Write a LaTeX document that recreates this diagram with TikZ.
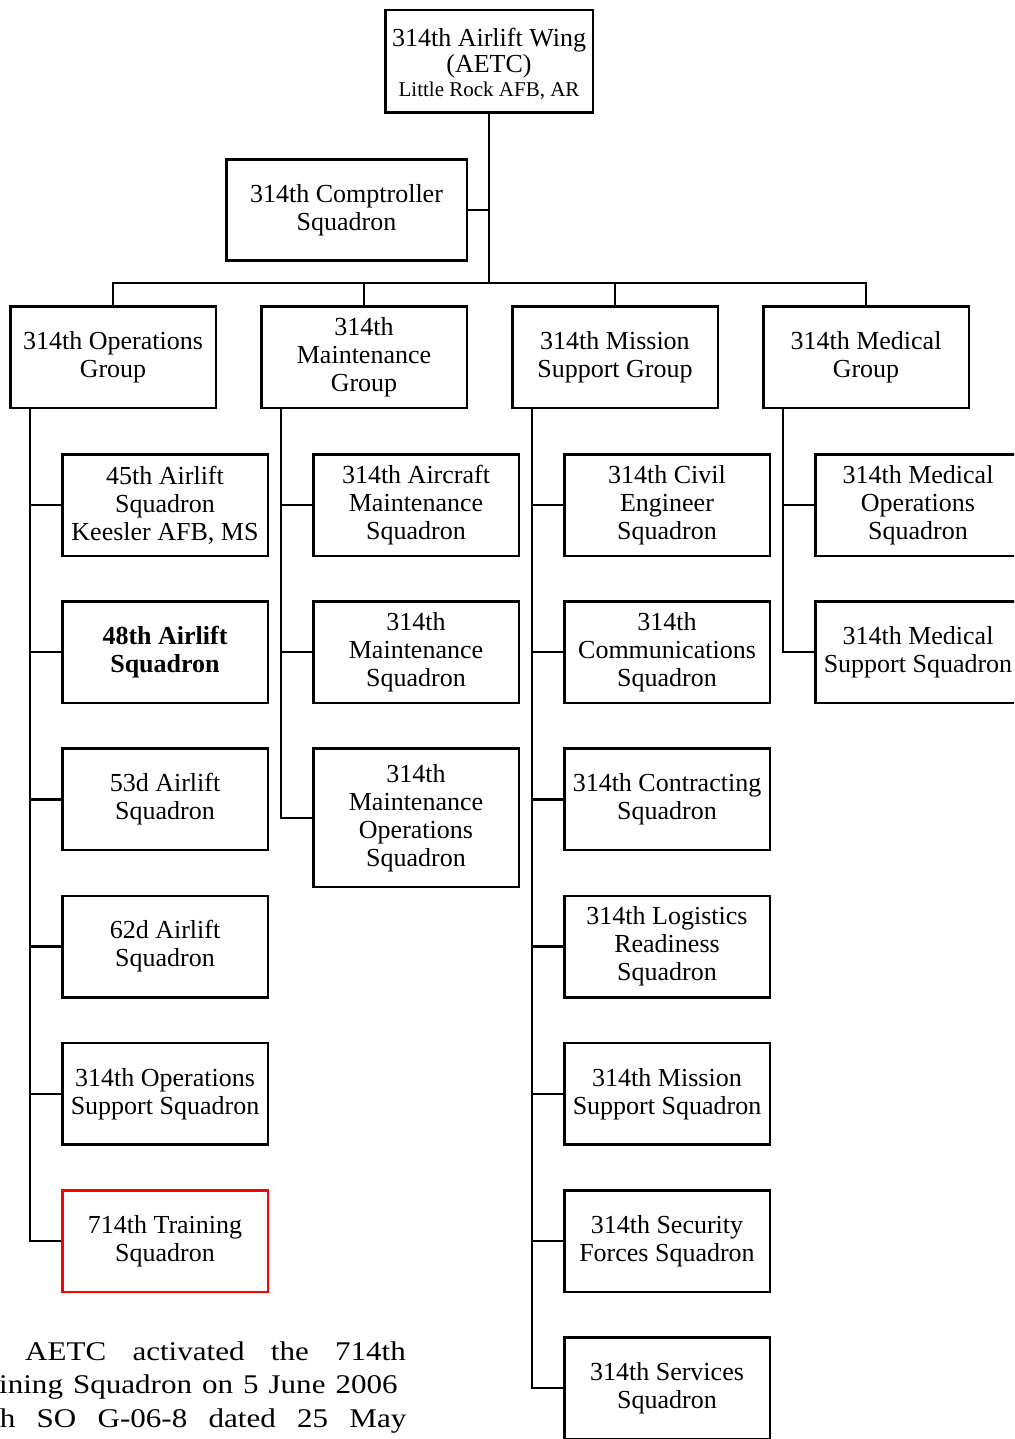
\documentclass[tikz,border=0pt]{standalone}
\usepackage{fontspec}
\setmainfont{Liberation Serif}
\usetikzlibrary{positioning}

\tikzset{
  unit/.style={draw,line width=2.5pt,align=center,inner sep=0pt,
    minimum width=205.5pt,minimum height=101.5pt,
    font=\fontsize{26}{28}\selectfont},
  link/.style={line width=2.5pt},
  note/.style={anchor=base west,inner sep=0pt,font=\fontsize{27}{33}\selectfont}
}
\newcommand{\noteline}[2]{\scalebox{1.15}[1]{\makebox[#1][s]{#2}}}

\begin{document}
\begin{tikzpicture}[x=1pt,y=-1pt,node distance=43.2pt and 43pt]
  \useasboundingbox (0,0) rectangle (1014,1439);
  \clip (0,0) rectangle (1014,1439);

  % wing and staff
  \node[unit,minimum width=207.5pt,minimum height=102.5pt] (wing) at (489,61.5)
    {\rule{0pt}{23pt}314th Airlift Wing\\[-2pt](AETC)\\[-4pt]{\fontsize{21}{24}\selectfont Little Rock AFB, AR}};
  \node[unit,minimum width=240.5pt,minimum height=101pt] (comp) at (346.5,210)
    {314th Comptroller\\Squadron};
  \coordinate (bus) at (489,283);

  % groups
  \node[unit] (ops) at (113,357) {314th Operations\\Group};
  \node[unit,right=of ops] (maint) {314th\\Maintenance\\Group};
  \node[unit,right=of maint] (msg) {314th Mission\\Support Group};
  \node[unit,right=of msg] (med) {314th Medical\\Group};

  % operations group
  \node[unit] (sq45) at ([xshift=52pt,yshift=-148pt]ops) {45th Airlift\\Squadron\\Keesler AFB, MS};
  \node[unit,below=of sq45] (sq48) {\bfseries 48th Airlift\\\bfseries Squadron};
  \node[unit,below=of sq48] (sq53) {53d Airlift\\Squadron};
  \node[unit,below=of sq53] (sq62) {62d Airlift\\Squadron};
  \node[unit,below=of sq62] (oss) {314th Operations\\Support Squadron};
  \node[unit,draw=red,below=of oss] (trs) {714th Training\\Squadron};

  % maintenance group
  \node[unit] (amxs) at ([xshift=52pt,yshift=-148pt]maint) {314th Aircraft\\Maintenance\\Squadron};
  \node[unit,below=of amxs] (mxs) {314th\\Maintenance\\Squadron};
  \node[unit,minimum height=138.5pt,below=of mxs] (mos) {314th\\Maintenance\\Operations\\Squadron};

  % mission support group
  \node[unit] (ces) at ([xshift=52pt,yshift=-148pt]msg) {314th Civil\\Engineer\\Squadron};
  \node[unit,below=of ces] (cs) {314th\\Communications\\Squadron};
  \node[unit,below=of cs] (cons) {314th Contracting\\Squadron};
  \node[unit,below=of cons] (lrs) {314th Logistics\\Readiness\\Squadron};
  \node[unit,below=of lrs] (mss) {314th Mission\\Support Squadron};
  \node[unit,below=of mss] (sfs) {314th Security\\Forces Squadron};
  \node[unit,below=of sfs] (svs) {314th Services\\Squadron};

  % medical group
  \node[unit] (mdos) at ([xshift=52pt,yshift=-148pt]med) {314th Medical\\Operations\\Squadron};
  \node[unit,below=of mdos] (mdss) {314th Medical\\Support Squadron};

  % connectors
  \draw[link] (wing) -- (bus);
  \draw[link] (comp.east) -- (comp.east -| bus);
  \foreach \g in {ops,maint,msg,med}
    \draw[link] (\g.north) |- (bus);
  \foreach \s in {sq45,sq48,sq53,sq62,oss,trs}
    \draw[link] ([xshift=21pt]ops.south west) |- (\s.west);
  \foreach \s in {amxs,mxs,mos}
    \draw[link] ([xshift=21pt]maint.south west) |- (\s.west);
  \foreach \s in {ces,cs,cons,lrs,mss,sfs,svs}
    \draw[link] ([xshift=21pt]msg.south west) |- (\s.west);
  \foreach \s in {mdos,mdss}
    \draw[link] ([xshift=21pt]med.south west) |- (\s.west);

  % note
  \node[note] (note1) at (25,1360) {\noteline{331pt}{AETC activated the 714th}};
  \node[note] (note2) at (-43,1393.5) {\noteline{383pt}{Training Squadron on 5 June 2006}};
  \node[note] (note3) at (-40,1427) {\noteline{388pt}{with SO G-06-8 dated 25 May}};
\end{tikzpicture}
\end{document}
